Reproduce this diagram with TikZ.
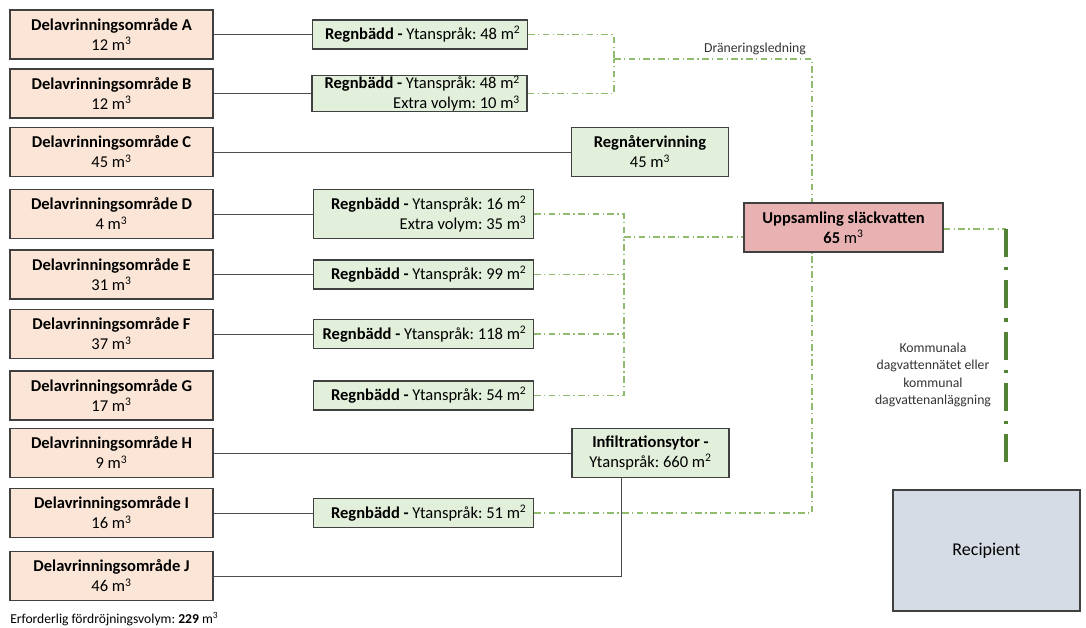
\documentclass[tikz,border=0pt]{standalone}
\usepackage{fontspec}
\setmainfont{Carlito}
\frenchspacing
\definecolor{omrfill}{HTML}{FBE5D6}
\definecolor{baddfill}{HTML}{E2EFDA}
\definecolor{uppfill}{HTML}{E8B2B2}
\definecolor{recfill}{HTML}{D6DCE5}
\definecolor{dranfarg}{HTML}{8FBC6F}
\definecolor{kommfarg}{HTML}{548235}
\newcommand{\badd}[1]{\textbf{Regnbädd -} Ytanspråk: #1 m\textsuperscript{2}}
\begin{document}
\begin{tikzpicture}[x=0.75pt,y=-0.75pt,
	every node/.style={font=\fontsize{12.4}{15}\selectfont,inner sep=0pt},
	box/.style={draw=black!75,line width=0.8pt,minimum height={49*0.75pt}},
	omrbox/.style={box,fill=omrfill,minimum width={203*0.75pt},align=center},
	baddbox/.style={box,fill=baddfill,minimum height={29*0.75pt},text width={206*0.75pt},inner xsep={7*0.75pt},align=flush right},
	atgbox/.style={box,fill=baddfill,minimum width={157*0.75pt},align=center},
	ledning/.style={black!70,line width=0.75pt},
	dran/.style={dranfarg,line width=0.8pt,dash pattern=on 5pt off 2.5pt on 1pt off 2.5pt},
	kommledn/.style={kommfarg,line width=2.3pt,dash pattern=on 21pt off 7.5pt on 2.5pt off 7.5pt},
	liten/.style={font=\fontsize{10.3}{13}\selectfont,text=black!80}]
\useasboundingbox (0,0) rectangle (1086,628);
\foreach \n/\v/\y in {A/12/34.5,B/12/93.5,C/45/152,D/4/214,E/31/274.5,F/37/334,G/17/395.5,H/9/453,I/16/513,J/46/576}
	\node[omrbox] (o\n) at (111.5,\y) {\textbf{Delavrinningsområde \n}\\\v{} m\textsuperscript{3}};
\node[baddbox,text width={201*0.75pt}] (bA) at (420,34.5) {\badd{48}};
\node[baddbox,text width={201*0.75pt}] (bB) at (419.5,93.5) {\badd{48}\\Extra volym: 10 m\textsuperscript{3}};
\node[baddbox,minimum height={49*0.75pt}] (bD) at (423.5,214) {\badd{16}\\Extra volym: 35 m\textsuperscript{3}};
\node[baddbox] (bE) at (423.5,274.5) {\badd{99}};
\node[baddbox] (bF) at (423.5,334) {\badd{118}};
\node[baddbox] (bG) at (423.5,395.5) {\badd{54}};
\node[baddbox] (bI) at (423.5,513) {\badd{51}};
\node[atgbox] (rv) at (650,152) {\textbf{Regnåtervinning}\\45 m\textsuperscript{3}};
\node[atgbox] (inf) at (650.5,453) {\textbf{Infiltrationsytor -}\\Ytanspråk: 660 m\textsuperscript{2}};
\node[box,fill=uppfill,minimum width={199*0.75pt},align=center] (upp) at (843.5,227.5) {\textbf{Uppsamling släckvatten}\\\textbf{65} m\textsuperscript{3}};
\node[box,fill=recfill,minimum width={187*0.75pt},minimum height={121*0.75pt},font=\fontsize{13.5}{16}\selectfont] (rec) at (986.5,550.5) {Recipient};
\node[liten] (drtext) at (755,49) {Dräneringsledning};
\node[liten,align=center] (kommtext) at (933,375) {Kommunala\\dagvattennätet eller\\kommunal\\dagvattenanläggning};
\node[anchor=west,font=\fontsize{10.2}{12}\selectfont] (volym) at (10,619) {Erforderlig fördröjningsvolym: \textbf{229} m\textsuperscript{3}};
\foreach \n in {A,B,D,E,F,I}
	\draw[ledning] (o\n) -- (b\n);
\draw[ledning] (oC) -- (rv);
\draw[ledning] (oH) -- (inf);
\coordinate (jJ) at (621,576);
\draw[ledning] (oJ.east) -- (jJ) -- (jJ |- inf.south);
\coordinate (jA) at (614,59);
\coordinate (dr) at (812,59);
\coordinate (jD) at (624,237);
\draw[dran] (bA.east) -| (jA);
\draw[dran] (bB.east) -| (jA);
\draw[dran] (jA) -- (dr) -- (dr |- upp.north);
\draw[dran] (bD.east) -| (jD);
\draw[dran] (bG.east) -| (jD);
\draw[dran] (bE.east) -- (bE.east -| jD);
\draw[dran] (bF.east) -- (bF.east -| jD);
\draw[dran] (jD) -- (jD -| upp.west);
\draw[dran] (bI.east) -| (dr |- upp.south);
\coordinate (rk) at (1006,229);
\coordinate (rs) at (1006,470);
\draw[dran] (upp.east |- rk) -- (rk);
\draw[kommledn] (rk) -- (rs);
\end{tikzpicture}
\end{document}
